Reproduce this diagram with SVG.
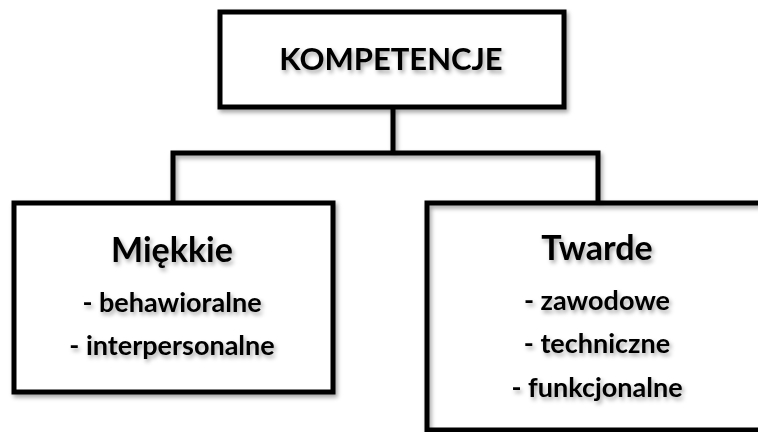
<svg xmlns="http://www.w3.org/2000/svg" width="758" height="432" viewBox="0 0 758 432">
<defs>
<filter id="sh" x="-10%" y="-10%" width="130%" height="140%">
<feDropShadow dx="2" dy="3" stdDeviation="2" flood-color="#000" flood-opacity="0.35"/>
</filter>
</defs>
<style>
.box{fill:#fff;stroke:#000;stroke-width:5}
.ln{fill:none;stroke:#000;stroke-width:5}
text{font-family:Lato,"Liberation Sans",sans-serif;font-weight:700;fill:#000;text-anchor:middle}
.t{font-size:31px}
.h{font-size:34px}
.b{font-size:27px}
</style>
<rect width="758" height="432" fill="#fff"/>
<g id="connectors" filter="url(#sh)">
<path class="ln" d="M393 107 V153 M173 201 V153 H598 V201"/>
</g>
<g id="kompetencje">
<rect class="box" x="220" y="12" width="344" height="95" filter="url(#sh)"/>
<text class="t" x="391" y="70" filter="url(#sh)">KOMPETENCJE</text>
</g>
<g id="miekkie">
<rect class="box" x="14" y="203" width="319" height="189" filter="url(#sh)"/>
<g filter="url(#sh)">
<text class="h" x="172" y="262">Miękkie</text>
<text class="b" x="172" y="312">- behawioralne</text>
<text class="b" x="172" y="355">- interpersonalne</text>
</g>
</g>
<g id="twarde">
<path class="ln" d="M427 432 V203 H760" filter="url(#sh)"/>
<path class="ln" d="M425 430 H760"/>
<g filter="url(#sh)">
<text class="h" x="597" y="260">Twarde</text>
<text class="b" x="597" y="310">- zawodowe</text>
<text class="b" x="597" y="353">- techniczne</text>
<text class="b" x="597" y="397">- funkcjonalne</text>
</g>
</g>
</svg>
